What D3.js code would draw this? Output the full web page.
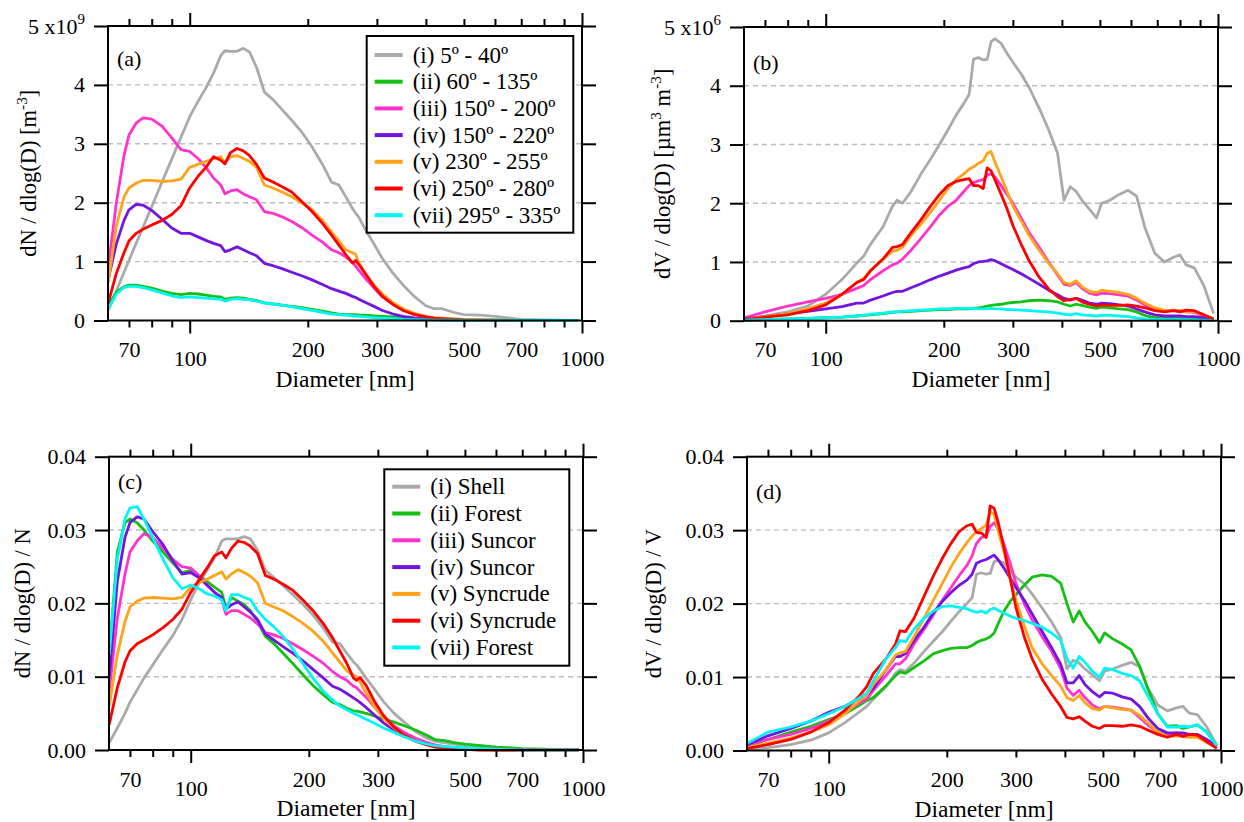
<!DOCTYPE html>
<html><head><meta charset="utf-8">
<script src="https://cdn.jsdelivr.net/npm/d3@7"></script>
<style>body{margin:0;background:#fff} svg{display:block}</style>
</head><body>
<svg id="chart" width="1244" height="822"></svg>
<script>
// ---------------- DATA ----------------
const seriesColors = ["#aaaaaa", "#14c014", "#ff33cc", "#7414e0", "#ffa41a", "#ff0000", "#00f5f5"];
const legendA = ["(i) 5º - 40º", "(ii) 60º - 135º", "(iii) 150º - 200º", "(iv) 150º - 220º", "(v) 230º - 255º", "(vi) 250º - 280º", "(vii) 295º - 335º"];
const legendC = ["(i) Shell", "(ii) Forest", "(iii) Suncor", "(iv) Suncor", "(v) Syncrude", "(vi) Syncrude", "(vii) Forest"];

const xTickMajor = [100, 1000];
const xTickMinor = [70, 80, 90, 200, 300, 400, 500, 600, 700, 800, 900];
const xTickLabelled = [70, 100, 200, 300, 500, 700, 1000];
const yTicksAB = [0, 1, 2, 3, 4, 5];
const yTicksCD = [0, 0.01, 0.02, 0.03, 0.04];

// diameters [nm] for number distributions (a, c)
const Dn = [62, 65, 68, 70, 73, 76, 80, 85, 90, 95,
  100, 105, 110, 115, 120, 123, 127, 132, 137, 142,
  148, 155, 163, 172, 182, 193, 205, 218, 230, 240,
  250, 260, 265, 270, 280, 295, 310, 330, 350, 375,
  400, 420, 440, 470, 500, 550, 600, 700, 800, 975];

// (a) dN/dlog(D) in units of 1e9 m^-3
const a_i = [0.18, 0.5, 0.82, 1.02, 1.31, 1.58, 1.93, 2.35, 2.74, 3.11,
  3.46, 3.72, 3.95, 4.2, 4.5, 4.58, 4.57, 4.57, 4.62, 4.56,
  4.3, 3.88, 3.75, 3.58, 3.4, 3.2, 2.95, 2.65, 2.35, 2.3,
  2.1, 1.9, 1.82, 1.75, 1.55, 1.3, 1.05, 0.8, 0.6, 0.4,
  0.25, 0.2, 0.2, 0.14, 0.1, 0.09, 0.07, 0.02, 0.01, 0];
const a_ii = [0.25, 0.48, 0.57, 0.6, 0.6, 0.58, 0.55, 0.5, 0.46, 0.44,
  0.46, 0.45, 0.43, 0.41, 0.4, 0.36, 0.38, 0.39, 0.38, 0.36,
  0.34, 0.3, 0.28, 0.26, 0.24, 0.22, 0.19, 0.16, 0.13, 0.11,
  0.1, 0.1, 0.1, 0.09, 0.09, 0.08, 0.07, 0.06, 0.05, 0.04,
  0.03, 0.02, 0.02, 0.015, 0.01, 0.008, 0.005, 0.002, 0.001, 0];
const a_iii = [0.9, 2.0, 2.8, 3.15, 3.35, 3.44, 3.42, 3.3, 3.1, 2.9,
  2.87, 2.75, 2.6, 2.42, 2.3, 2.15, 2.2, 2.22, 2.15, 2.1,
  2.05, 1.85, 1.82, 1.76, 1.68, 1.58, 1.45, 1.33, 1.2, 1.15,
  1.08, 0.98, 0.92, 0.85, 0.72, 0.55, 0.4, 0.28, 0.18, 0.1,
  0.06, 0.04, 0.03, 0.02, 0.01, 0.005, 0.003, 0.001, 0, 0];
const a_iv = [0.7, 1.3, 1.7, 1.88, 1.97, 1.96, 1.87, 1.72, 1.57, 1.48,
  1.48, 1.42, 1.36, 1.31, 1.27, 1.17, 1.2, 1.25, 1.2, 1.15,
  1.1, 0.97, 0.93, 0.88, 0.82, 0.76, 0.69, 0.61, 0.54, 0.5,
  0.46, 0.41, 0.39, 0.36, 0.31, 0.24, 0.17, 0.11, 0.07, 0.04,
  0.02, 0.015, 0.01, 0.005, 0.003, 0.001, 0, 0, 0, 0];
const a_v = [0.65, 1.6, 2.1, 2.25, 2.33, 2.38, 2.38, 2.36, 2.37, 2.4,
  2.6, 2.65, 2.7, 2.75, 2.78, 2.68, 2.78, 2.8, 2.75, 2.7,
  2.6, 2.3, 2.25, 2.18, 2.1, 2.0, 1.88, 1.7, 1.5, 1.35,
  1.2, 1.15, 1.12, 0.98, 0.8, 0.6, 0.45, 0.3, 0.2, 0.12,
  0.07, 0.05, 0.04, 0.03, 0.02, 0.012, 0.008, 0.003, 0.001, 0];
const a_vi = [0.3, 0.8, 1.15, 1.35, 1.48, 1.55, 1.62, 1.7, 1.8, 1.95,
  2.25, 2.45, 2.6, 2.78, 2.72, 2.66, 2.85, 2.92, 2.88, 2.8,
  2.65, 2.42, 2.35, 2.27, 2.18, 2.02, 1.85, 1.65, 1.45, 1.28,
  1.12, 0.98, 1.02, 0.95, 0.8, 0.58, 0.41, 0.27, 0.17, 0.1,
  0.06, 0.04, 0.03, 0.02, 0.01, 0.006, 0.004, 0.001, 0, 0];
const a_vii = [0.2, 0.45, 0.56, 0.58, 0.58, 0.56, 0.52, 0.47, 0.42, 0.39,
  0.4, 0.39, 0.38, 0.37, 0.36, 0.33, 0.36, 0.37, 0.36, 0.35,
  0.33, 0.3, 0.28, 0.26, 0.23, 0.2, 0.17, 0.14, 0.11, 0.1,
  0.09, 0.08, 0.075, 0.07, 0.06, 0.05, 0.04, 0.03, 0.02, 0.015,
  0.01, 0.008, 0.005, 0.004, 0.003, 0.002, 0.001, 0, 0, 0];

// (c) dN/dlog(D)/N
const c_i = [0.001, 0.003, 0.005, 0.0065, 0.0082, 0.0098, 0.0116, 0.0137, 0.0156, 0.0178,
  0.0205, 0.0228, 0.0245, 0.0262, 0.0285, 0.0288, 0.0288, 0.0288, 0.0291, 0.0288,
  0.0272, 0.0245, 0.0235, 0.0224, 0.0212, 0.0199, 0.0184, 0.0166, 0.0147, 0.0145,
  0.0132, 0.012, 0.0116, 0.011, 0.0098, 0.0082, 0.0066, 0.005, 0.0038, 0.0025,
  0.0016, 0.0012, 0.001, 0.0008, 0.0006, 0.0005, 0.0004, 0.0001, 0, 0];
const c_ii = [0.013, 0.027, 0.031, 0.0315, 0.031, 0.03, 0.0285, 0.027, 0.0255, 0.0242,
  0.0245, 0.0238, 0.023, 0.0222, 0.0215, 0.0193, 0.0208, 0.0203, 0.0198, 0.019,
  0.0175, 0.0155, 0.0145, 0.0132, 0.0118, 0.0103, 0.0088, 0.0075, 0.0065, 0.0062,
  0.0057, 0.0053, 0.0053, 0.0052, 0.005, 0.0046, 0.0042, 0.0038, 0.0033, 0.0027,
  0.002, 0.0014, 0.0013, 0.001, 0.0008, 0.0006, 0.0004, 0.0002, 0.0001, 0];
const c_iii = [0.008, 0.018, 0.024, 0.027, 0.0285, 0.0295, 0.029, 0.0275, 0.026, 0.025,
  0.0248, 0.0238, 0.0225, 0.0215, 0.0205, 0.0185, 0.019, 0.019, 0.0185, 0.018,
  0.0172, 0.016, 0.0157, 0.0152, 0.0145, 0.0137, 0.0128, 0.0118, 0.0107, 0.01,
  0.0095, 0.0087, 0.0085, 0.008, 0.0072, 0.0058, 0.0045, 0.0033, 0.0024, 0.0016,
  0.001, 0.0007, 0.0005, 0.0003, 0.0002, 0.0001, 0.0001, 0, 0, 0];
const c_iv = [0.01, 0.023, 0.029, 0.031, 0.0318, 0.0315, 0.0298, 0.028, 0.0258, 0.024,
  0.0242, 0.0235, 0.0225, 0.0215, 0.0208, 0.0192, 0.0198, 0.0202, 0.0195, 0.0188,
  0.0178, 0.0158, 0.015, 0.0141, 0.0132, 0.0122, 0.011, 0.0098, 0.0087, 0.0083,
  0.0077, 0.0071, 0.0068, 0.0065, 0.0058, 0.0047, 0.0037, 0.0027, 0.0019, 0.0012,
  0.0008, 0.0005, 0.0004, 0.0002, 0.0001, 0.0001, 0, 0, 0, 0];
const c_v = [0.006, 0.013, 0.0175, 0.0195, 0.0203, 0.0207, 0.0208, 0.0207, 0.0206, 0.0208,
  0.0222, 0.0228, 0.0233, 0.0238, 0.0243, 0.0233, 0.024, 0.0246, 0.0242, 0.0237,
  0.0228, 0.02, 0.0195, 0.019, 0.0182, 0.0173, 0.0162, 0.0148, 0.0132, 0.012,
  0.0108, 0.0102, 0.01, 0.0093, 0.0078, 0.0058, 0.0043, 0.003, 0.002, 0.0012,
  0.0007, 0.0005, 0.0003, 0.0002, 0.0001, 0, 0, 0, 0, 0];
const c_vi = [0.0035, 0.0085, 0.012, 0.0135, 0.0145, 0.015, 0.0157, 0.0167, 0.0178, 0.0192,
  0.0215, 0.0232, 0.0248, 0.0265, 0.027, 0.0262, 0.0275, 0.0285, 0.0283, 0.0278,
  0.0268, 0.0238, 0.0233, 0.0226, 0.0218, 0.0205, 0.019, 0.0172, 0.0153, 0.0135,
  0.0118, 0.0098, 0.0095, 0.0099, 0.0088, 0.0065, 0.0047, 0.0031, 0.002, 0.0012,
  0.0007, 0.0004, 0.0003, 0.0002, 0.0001, 0, 0, 0, 0, 0];
const c_vii = [0.013, 0.026, 0.0315, 0.033, 0.0332, 0.0315, 0.029, 0.026, 0.0235, 0.022,
  0.0225, 0.022, 0.0213, 0.021, 0.0205, 0.019, 0.0212, 0.0212, 0.0208, 0.0205,
  0.019, 0.0178, 0.0168, 0.0155, 0.0138, 0.0118, 0.0098, 0.008, 0.0068, 0.006,
  0.0055, 0.005, 0.0048, 0.0046, 0.0042, 0.0036, 0.003, 0.0024, 0.0018, 0.0012,
  0.0008, 0.0006, 0.0005, 0.0004, 0.0003, 0.0002, 0.0001, 0, 0, 0];

// diameters [nm] for volume distributions (b, d)
const Dv = [62, 70, 80, 90, 100, 110, 120, 125, 130, 140,
  148, 152, 157, 165, 175, 185, 195, 205, 215, 225,
  232, 238, 245, 252, 258, 264, 270, 280, 290, 300,
  315, 330, 350, 370, 390, 405, 420, 435, 450, 470,
  490, 505, 530, 560, 590, 620, 650, 690, 730, 770,
  800, 830, 870, 920, 975];

// (b) dV/dlog(D) in units of 1e6 um^3 m^-3
const b_i = [0.03, 0.08, 0.15, 0.25, 0.45, 0.7, 0.98, 1.1, 1.3, 1.6,
  1.95, 2.05, 2.0, 2.2, 2.5, 2.75, 3.0, 3.25, 3.5, 3.7,
  3.85, 4.45, 4.48, 4.44, 4.45, 4.75, 4.8, 4.72, 4.55, 4.4,
  4.2, 3.97, 3.62, 3.25, 2.85, 2.05, 2.28, 2.2, 2.05, 1.9,
  1.75, 2.0, 2.05, 2.15, 2.22, 2.12, 1.6, 1.15, 1.0, 1.08,
  1.12, 0.95, 0.9, 0.6, 0.12];
const b_ii = [0.01, 0.02, 0.03, 0.04, 0.05, 0.06, 0.08, 0.09, 0.1, 0.12,
  0.14, 0.15, 0.15, 0.16, 0.17, 0.18, 0.19, 0.19, 0.2, 0.2,
  0.2, 0.21, 0.22, 0.23, 0.25, 0.26, 0.27, 0.28, 0.3, 0.31,
  0.32, 0.34, 0.35, 0.34, 0.32, 0.28, 0.25, 0.28, 0.26, 0.23,
  0.21, 0.23, 0.22, 0.2, 0.19, 0.15, 0.09, 0.05, 0.04, 0.04,
  0.04, 0.03, 0.03, 0.02, 0.01];
const b_iii = [0.05, 0.15, 0.25, 0.32, 0.38, 0.45, 0.55, 0.6, 0.7, 0.85,
  0.95, 0.98, 1.05, 1.2, 1.4, 1.6, 1.8, 1.95, 2.05, 2.2,
  2.3, 2.35, 2.38, 2.4, 2.48, 2.5, 2.45, 2.3, 2.15, 2.0,
  1.75, 1.5, 1.25, 1.0, 0.78, 0.62, 0.6, 0.65, 0.55, 0.47,
  0.44, 0.47, 0.46, 0.44, 0.42, 0.35, 0.27, 0.2, 0.17, 0.18,
  0.17, 0.15, 0.14, 0.08, 0.03];
const b_iv = [0.03, 0.07, 0.12, 0.16, 0.2, 0.24, 0.3, 0.3, 0.35, 0.42,
  0.48, 0.5, 0.5, 0.56, 0.63, 0.7, 0.76, 0.81, 0.86, 0.9,
  0.92, 0.97, 1.0, 1.01, 1.02, 1.04, 1.02, 0.97, 0.92, 0.87,
  0.8, 0.72, 0.62, 0.52, 0.44, 0.38, 0.35, 0.38, 0.35, 0.3,
  0.28, 0.3, 0.29, 0.27, 0.25, 0.2, 0.15, 0.1, 0.08, 0.08,
  0.08, 0.07, 0.07, 0.05, 0.02];
const b_v = [0.02, 0.07, 0.12, 0.2, 0.3, 0.45, 0.65, 0.72, 0.85, 1.05,
  1.18, 1.2, 1.25, 1.45, 1.65, 1.85, 2.05, 2.25, 2.4, 2.5,
  2.58, 2.62, 2.68, 2.72, 2.85, 2.88, 2.7, 2.45, 2.2, 1.95,
  1.7, 1.45, 1.2, 0.98, 0.8, 0.65, 0.62, 0.68, 0.58, 0.5,
  0.48, 0.52, 0.5, 0.48, 0.45, 0.38, 0.3, 0.22, 0.18, 0.17,
  0.17, 0.15, 0.15, 0.1, 0.03];
const b_vi = [0.02, 0.06, 0.1, 0.17, 0.27, 0.45, 0.65, 0.7, 0.85, 1.05,
  1.25, 1.26, 1.3, 1.5, 1.72, 1.95, 2.15, 2.3, 2.37, 2.4,
  2.42, 2.3, 2.3, 2.25, 2.6, 2.55, 2.4, 2.15, 1.9, 1.62,
  1.3, 1.02, 0.74, 0.54, 0.41, 0.34, 0.36, 0.38, 0.32, 0.28,
  0.25, 0.27, 0.26, 0.26, 0.27, 0.25, 0.22, 0.17, 0.15, 0.17,
  0.15, 0.18, 0.17, 0.1, 0.03];
const b_vii = [0.01, 0.02, 0.03, 0.04, 0.05, 0.06, 0.08, 0.09, 0.11, 0.13,
  0.15, 0.15, 0.16, 0.17, 0.18, 0.19, 0.2, 0.2, 0.21, 0.21,
  0.21, 0.21, 0.2, 0.2, 0.2, 0.21, 0.2, 0.2, 0.19, 0.19,
  0.18, 0.17, 0.16, 0.15, 0.13, 0.11, 0.1, 0.12, 0.1, 0.09,
  0.08, 0.09, 0.09, 0.08, 0.07, 0.05, 0.03, 0.02, 0.02, 0.02,
  0.02, 0.02, 0.01, 0.01, 0];

// (d) dV/dlog(D)/V
const d_i = [0.0002, 0.0004, 0.0008, 0.0014, 0.0024, 0.0038, 0.0053, 0.006, 0.007, 0.0087,
  0.0105, 0.011, 0.0108, 0.0119, 0.0135, 0.0149, 0.0162, 0.0176, 0.0189, 0.02,
  0.0208, 0.024, 0.0242, 0.024, 0.0241, 0.0257, 0.0259, 0.0255, 0.0246, 0.0236,
  0.0227, 0.0213, 0.0194, 0.0175, 0.0154, 0.0111, 0.0123, 0.0119, 0.0111, 0.0103,
  0.0095, 0.0108, 0.0111, 0.0116, 0.012, 0.0114, 0.0086, 0.0062, 0.0054, 0.0058,
  0.006, 0.0051, 0.0049, 0.0032, 0.0007];
const d_ii = [0.0006, 0.0015, 0.0025, 0.0033, 0.0042, 0.005, 0.0062, 0.0068, 0.0072, 0.0088,
  0.0102, 0.0107, 0.0105, 0.0113, 0.0122, 0.0132, 0.0136, 0.0139, 0.014, 0.014,
  0.0143, 0.0147, 0.015, 0.0152, 0.0155, 0.016, 0.0172, 0.019, 0.0203, 0.0212,
  0.0225, 0.0236, 0.0239, 0.0237, 0.0228, 0.02, 0.0175, 0.019, 0.0175, 0.0162,
  0.0147, 0.016, 0.0152, 0.0145, 0.0137, 0.0115, 0.0085, 0.005, 0.0033, 0.0034,
  0.003, 0.0032, 0.0035, 0.0025, 0.0007];
const d_iii = [0.0008, 0.0015, 0.0022, 0.003, 0.004, 0.0052, 0.0065, 0.007, 0.0082, 0.0102,
  0.0118, 0.0118, 0.0125, 0.0145, 0.0165, 0.0185, 0.0205, 0.0222, 0.0238, 0.0252,
  0.0265, 0.0282, 0.029, 0.0292, 0.0305, 0.031, 0.0302, 0.028, 0.0255, 0.0228,
  0.02, 0.0178, 0.0155, 0.0135, 0.0112, 0.0085, 0.0075, 0.0082, 0.0072, 0.0062,
  0.0057, 0.006, 0.0059, 0.0057, 0.0055, 0.0045, 0.0035, 0.0025, 0.0022, 0.0024,
  0.0022, 0.002, 0.002, 0.0012, 0.0005];
const d_iv = [0.0008, 0.002, 0.003, 0.004, 0.0052, 0.006, 0.0072, 0.0075, 0.0085, 0.011,
  0.0128, 0.0128, 0.0132, 0.015, 0.0168, 0.0188, 0.0203, 0.0215, 0.0225, 0.0232,
  0.024, 0.0255, 0.0258, 0.026, 0.0263, 0.0266, 0.026, 0.0248, 0.0235, 0.0222,
  0.0205, 0.0186, 0.0162, 0.014, 0.0118, 0.0092, 0.0092, 0.0102, 0.009, 0.008,
  0.0073, 0.0079, 0.0078, 0.0073, 0.007, 0.006, 0.0045, 0.003, 0.0024, 0.0024,
  0.0024, 0.0022, 0.0022, 0.0015, 0.0005];
const d_v = [0.0004, 0.001, 0.0017, 0.0025, 0.0035, 0.005, 0.0068, 0.0075, 0.009, 0.011,
  0.013, 0.0133, 0.0135, 0.0155, 0.018, 0.0205, 0.0228, 0.025, 0.0268, 0.0283,
  0.0292, 0.0298, 0.0302, 0.0307, 0.0325, 0.0322, 0.03, 0.027, 0.0235, 0.0205,
  0.017, 0.014, 0.0118, 0.0102, 0.0088, 0.0072, 0.0068, 0.0075, 0.0065, 0.0057,
  0.0055, 0.006, 0.0058, 0.0056, 0.0055, 0.0048, 0.0038, 0.0025, 0.0019, 0.002,
  0.0019, 0.0018, 0.0018, 0.0011, 0.0004];
const d_vi = [0.0003, 0.0008, 0.0015, 0.0025, 0.0038, 0.0055, 0.0075, 0.0087, 0.0105, 0.0125,
  0.0145, 0.0163, 0.0162, 0.018, 0.021, 0.0238, 0.0262, 0.0282, 0.0298, 0.0306,
  0.0308, 0.0297, 0.0296, 0.029, 0.0333, 0.033, 0.0312, 0.0275, 0.0235, 0.0195,
  0.0155, 0.0125, 0.0097, 0.0077, 0.006, 0.0045, 0.0043, 0.0046, 0.004, 0.0033,
  0.003, 0.0034, 0.0034, 0.0033, 0.0035, 0.0033, 0.0028, 0.0022, 0.0018, 0.0022,
  0.0019, 0.0022, 0.0021, 0.0012, 0.0003];
const d_vii = [0.001, 0.0025, 0.0032, 0.004, 0.005, 0.006, 0.0072, 0.0078, 0.0095, 0.0125,
  0.014, 0.015, 0.0148, 0.0165, 0.018, 0.019, 0.0196, 0.0197, 0.0195, 0.0193,
  0.019, 0.0188, 0.019, 0.0187, 0.0192, 0.0194, 0.0191, 0.0187, 0.0183, 0.018,
  0.0177, 0.0173, 0.0168, 0.016, 0.015, 0.0125, 0.0112, 0.0128, 0.012, 0.0108,
  0.01, 0.0112, 0.011, 0.0105, 0.0102, 0.0095, 0.0075, 0.005, 0.0032, 0.0032,
  0.0033, 0.0032, 0.0035, 0.0025, 0.0007];

// ---------------- DRAWING ----------------
const svg = d3.select("#chart");
const FS = 22;
const FONT = '"Liberation Serif", monospace';

function richText(sel, parts, fs) {
  parts.forEach(([t, sup], i) => {
    const ts = sel.append("tspan").text(t);
    if (sup) ts.attr("font-size", fs * 0.68).attr("dy", -fs * 0.42);
    else if (i > 0 && parts[i - 1][1]) ts.attr("dy", fs * 0.42);
  });
}
function txt(parent, fs) {
  return parent.append("text").attr("font-family", FONT).attr("font-size", fs || FS).attr("fill", "#000");
}

function drawPanel(cfg) {
  const g = svg.append("g");
  const x = d3.scaleLog().domain([61.9, 1000]).range([cfg.left, cfg.left + 474]);
  const y = d3.scaleLinear().domain([0, cfg.ymax]).range([cfg.bottom, cfg.top]);
  const R = cfg.left + 474;

  g.append("g").selectAll("line").data(cfg.yTicks.slice(1, -1)).join("line")
    .attr("x1", cfg.left).attr("x2", R).attr("y1", d => y(d)).attr("y2", d => y(d))
    .attr("stroke", "#bdbdbd").attr("stroke-width", 1.4).attr("stroke-dasharray", "5,4");

  const line = d3.line().x(d => x(d[0])).y(d => y(d[1]));
  cfg.series.forEach((s, i) => {
    g.append("path").datum(cfg.D.map((d, k) => [d, s[k]]))
      .attr("d", line).attr("fill", "none").attr("stroke", seriesColors[i])
      .attr("stroke-width", 2.8).attr("stroke-linejoin", "round");
  });

  const styleAxis = a => {
    a.attr("font-family", FONT).attr("font-size", FS);
    a.select(".domain").remove();
    a.selectAll("line").attr("stroke", "#000").attr("stroke-width", 2);
    a.selectAll("text").attr("font-family", FONT).attr("font-size", FS).attr("fill", "#000");
  };

  const fmt = d => xTickLabelled.includes(d) ? String(d) : "";
  g.append("g").attr("transform", `translate(0,${cfg.bottom})`)
    .call(d3.axisBottom(x).tickValues(xTickMinor).tickSize(7).tickSizeOuter(0).tickPadding(14).tickFormat(fmt)).call(styleAxis);
  g.append("g").attr("transform", `translate(0,${cfg.bottom})`)
    .call(d3.axisBottom(x).tickValues(xTickMajor).tickSize(13).tickSizeOuter(0).tickPadding(17).tickFormat(fmt)).call(styleAxis);
  g.append("g").attr("transform", `translate(0,${cfg.top})`)
    .call(d3.axisTop(x).tickValues(xTickMinor).tickSize(7).tickSizeOuter(0).tickFormat("")).call(styleAxis);
  g.append("g").attr("transform", `translate(0,${cfg.top})`)
    .call(d3.axisTop(x).tickValues(xTickMajor).tickSize(13).tickSizeOuter(0).tickFormat("")).call(styleAxis);
  const la = g.append("g").attr("transform", `translate(${cfg.left},0)`)
    .call(d3.axisLeft(y).tickValues(cfg.yTicks).tickSize(14).tickSizeOuter(0).tickPadding(9)
      .tickFormat(cfg.yFmt)).call(styleAxis);
  if (cfg.topSup) {
    const t = la.selectAll(".tick text").filter(d => d === cfg.ymax);
    t.text(null);
    richText(t, [[cfg.topLabel, false], [cfg.topSup, true]], FS);
  }
  g.append("g").attr("transform", `translate(${R},0)`)
    .call(d3.axisRight(y).tickValues(cfg.yTicks).tickSize(14).tickSizeOuter(0).tickFormat("")).call(styleAxis);

  g.append("rect").attr("x", cfg.left).attr("y", cfg.top).attr("width", R - cfg.left)
    .attr("height", cfg.bottom - cfg.top).attr("fill", "none").attr("stroke", "#000").attr("stroke-width", 2);

  txt(g).attr("x", cfg.left + 9).attr("y", cfg.top + cfg.labDy)
    .attr("dominant-baseline", "central").text(cfg.label);

  txt(g, 23.5).attr("x", (cfg.left + R) / 2).attr("y", cfg.bottom + 66).attr("text-anchor", "middle")
    .text("Diameter [nm]");

  const yt = txt(g, 22.5).attr("transform", `translate(${cfg.ytX},${(cfg.top + cfg.bottom) / 2}) rotate(-90)`)
    .attr("text-anchor", "middle");
  richText(yt, cfg.yTitle, 22.5);

  if (cfg.legend) {
    const L = cfg.legend;
    const lg = g.append("g");
    lg.append("rect").attr("x", L.x).attr("y", L.y).attr("width", L.w).attr("height", L.h)
      .attr("fill", "#fff").attr("stroke", "#000").attr("stroke-width", 2);
    L.labels.forEach((lab, i) => {
      const cy = L.y + L.first + i * L.step;
      lg.append("line").attr("x1", L.x + 8).attr("x2", L.x + 36).attr("y1", cy).attr("y2", cy)
        .attr("stroke", seriesColors[i]).attr("stroke-width", 4);
      txt(lg, 23).attr("x", L.x + 46).attr("y", cy).attr("dominant-baseline", "central").text(lab);
    });
  }
}

drawPanel({
  left: 108, top: 26, bottom: 320.5, ymax: 5, yTicks: yTicksAB,
  yFmt: d => String(d), topLabel: "5 x10", topSup: "9",
  D: Dn, series: [a_i, a_ii, a_iii, a_iv, a_v, a_vi, a_vii],
  label: "(a)", labDy: 32, ytX: 36,
  yTitle: [["dN / dlog(D) [m", false], ["-3", true], ["]", false]],
  legend: {x: 366.7, y: 36, w: 206.6, h: 196.7, first: 19, step: 26.7, labels: legendA}
});
drawPanel({
  left: 744, top: 27, bottom: 320.7, ymax: 5, yTicks: yTicksAB,
  yFmt: d => String(d), topLabel: "5 x10", topSup: "6",
  D: Dv, series: [b_i, b_ii, b_iii, b_iv, b_v, b_vi, b_vii],
  label: "(b)", labDy: 35, ytX: 670,
  yTitle: [["dV / dlog(D) [µm", false], ["3", true], [" m", false], ["-3", true], ["]", false]]
});
drawPanel({
  left: 109, top: 456.7, bottom: 750, ymax: 0.04, yTicks: yTicksCD,
  yFmt: d3.format(".2f"),
  D: Dn, series: [c_i, c_ii, c_iii, c_iv, c_v, c_vi, c_vii],
  label: "(c)", labDy: 25, ytX: 30,
  yTitle: [["dN / dlog(D) / N", false]],
  legend: {x: 384.3, y: 469.3, w: 185, h: 196.4, first: 17.4, step: 26.8, labels: legendC}
});
drawPanel({
  left: 747, top: 456.7, bottom: 750.5, ymax: 0.04, yTicks: yTicksCD,
  yFmt: d3.format(".2f"),
  D: Dv, series: [d_i, d_ii, d_iii, d_iv, d_v, d_vi, d_vii],
  label: "(d)", labDy: 35, ytX: 661,
  yTitle: [["dV / dlog(D) / V", false]]
});
</script>
</body></html>
